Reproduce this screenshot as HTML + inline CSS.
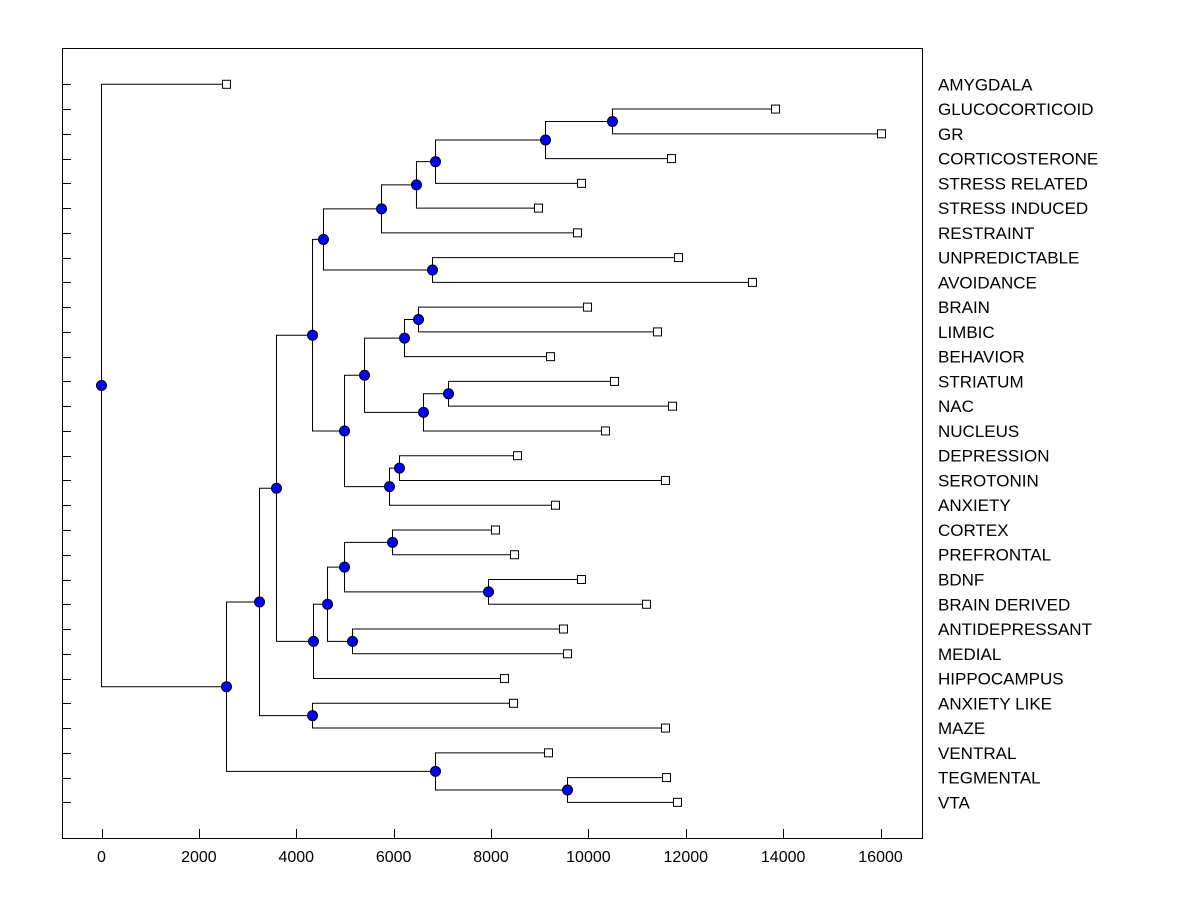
<!DOCTYPE html>
<html><head><meta charset="utf-8"><style>
html,body{margin:0;padding:0;background:#fff;}
svg text{font-family:"Liberation Sans",Arial,sans-serif;}
</style></head><body>
<svg id="chart" width="1200" height="900" viewBox="0 0 1200 900" xmlns="http://www.w3.org/2000/svg">
<rect x="0" y="0" width="1200" height="900" fill="#fff"/>
<rect x="62.5" y="48.5" width="860" height="790" fill="none" stroke="#000" stroke-width="1"/>
<g id="g"></g>
</svg>
<script>
const leafLabels = ["AMYGDALA","GLUCOCORTICOID","GR","CORTICOSTERONE","STRESS RELATED","STRESS INDUCED","RESTRAINT","UNPREDICTABLE","AVOIDANCE","BRAIN","LIMBIC","BEHAVIOR","STRIATUM","NAC","NUCLEUS","DEPRESSION","SEROTONIN","ANXIETY","CORTEX","PREFRONTAL","BDNF","BRAIN DERIVED","ANTIDEPRESSANT","MEDIAL","HIPPOCAMPUS","ANXIETY LIKE","MAZE","VENTRAL","TEGMENTAL","VTA"];
const leafValues = [2567,13843,16020,11707,9858,8975,9776,11851,13370,9982,11419,9222,10536,11727,10351,8544,11583,9324,8092,8482,9858,11193,9488,9571,8277,8462,11583,9180,11604,11830];
const mergeLeft  = [1,30,31,32,33,7,34,9,37,12,39,38,15,42,41,36,18,20,46,22,48,50,45,25,52,28,27,54,0];
const mergeRight = [2,3,4,5,6,8,35,10,11,13,14,40,16,17,43,44,19,21,47,23,49,24,51,26,53,29,55,56,57];
const mergeHeights = [10495,9119,6860,6469,5751,6798,4559,6511,6223,7127,6613,5402,6120,5915,4991,4334,5977,7948,4991,5155,4642,4354,3594,4334,3245,9571,6860,2567,0];
const xTicks = [0,2000,4000,6000,8000,10000,12000,14000,16000];

const NS="http://www.w3.org/2000/svg";
const g=document.getElementById('g');
const X=v=>101.5+v*0.04869;
const Y=i=>84.3+i*24.76;
function mk(t,a){const e=document.createElementNS(NS,t);for(const k in a)e.setAttribute(k,a[k]);g.appendChild(e);return e;}
const n=leafLabels.length;
const nx=[],ny=[];
leafLabels.forEach((l,i)=>{nx[i]=X(leafValues[i]);ny[i]=Y(i);});
leafLabels.forEach((l,i)=>{
  const t=mk('line',{x1:62.5,x2:71,y1:Math.round(Y(i))+0.5,y2:Math.round(Y(i))+0.5,stroke:'#000'});
  
  
  const tx=mk('text',{x:938,y:Y(i)+6,'font-size':17,fill:'#000'});
  tx.textContent=l;
  
  
});
xTicks.forEach(v=>{
  const t=mk('line',{x1:Math.round(X(v))+0.5,x2:Math.round(X(v))+0.5,y1:829,y2:838.5,stroke:'#000'});
  
  
  const tx=mk('text',{x:X(v),y:862,'font-size':16,'text-anchor':'middle',fill:'#000'});
  tx.textContent=String(v);
  
  
});
const nodes=[];
mergeLeft.forEach((a,k)=>{
  const b=mergeRight[k],id=n+k,hx=X(mergeHeights[k]);
  nx[id]=hx;ny[id]=(ny[a]+ny[b])/2;
  const p=mk('path',{d:`M${nx[a]},${ny[a]}H${hx}V${ny[b]}H${nx[b]}`,fill:'none',stroke:'#000','stroke-width':1});
  
  
  nodes.push(id);
});
leafLabels.forEach((l,i)=>{
  const r=mk('rect',{x:nx[i]-4,y:ny[i]-4,width:8,height:8,fill:'#fff',stroke:'#000'});
  
  
});
nodes.forEach(id=>{
  const c=mk('circle',{cx:nx[id],cy:ny[id],r:5,fill:'#0000ff',stroke:'#000','stroke-width':1});
  
  
});
</script>
</body></html>
